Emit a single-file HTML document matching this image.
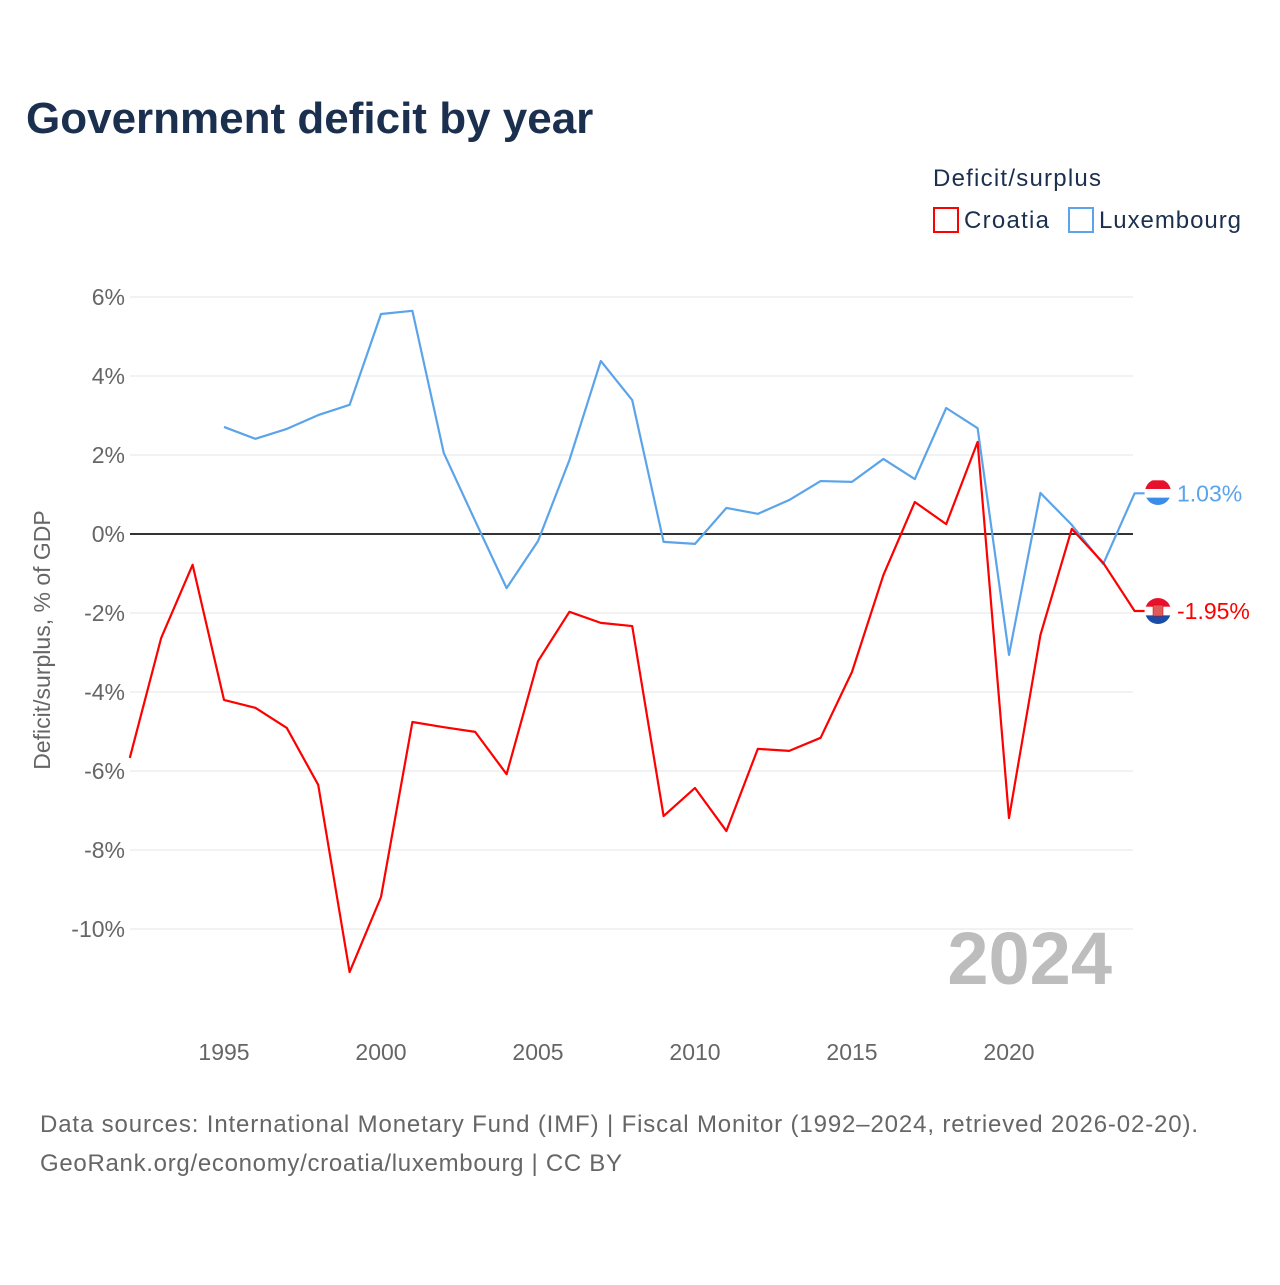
<!DOCTYPE html>
<html><head><meta charset="utf-8"><style>
body{margin:0;background:#fff;font-family:"Liberation Sans",sans-serif}
svg text{font-family:"Liberation Sans",sans-serif}
</style></head><body>
<svg id="chart" width="1280" height="1280" viewBox="0 0 1280 1280" xmlns="http://www.w3.org/2000/svg">
<defs>
<clipPath id="clipLux"><circle cx="1158" cy="492" r="13"/></clipPath>
<clipPath id="clipCro"><circle cx="1158" cy="611" r="13"/></clipPath>
</defs>
<rect width="1280" height="1280" fill="#fff"/>
<text x="26" y="133" font-size="44" font-weight="bold" fill="#1b2f4e">Government deficit by year</text>
<text x="933" y="186" font-size="24" fill="#1b2f4e" textLength="168">Deficit/surplus</text>
<g><rect x="934" y="208" width="24" height="24" fill="none" stroke="#f00" stroke-width="2"/><text x="964" y="228" font-size="24" fill="#1b2f4e" textLength="85">Croatia</text></g>
<g><rect x="1069" y="208" width="24" height="24" fill="none" stroke="#5ba4ea" stroke-width="2"/><text x="1099" y="228" font-size="24" fill="#1b2f4e" textLength="142">Luxembourg</text></g>
<g id="grid"></g><g id="yticks"></g><g id="xticks"></g>
<text transform="translate(50,640) rotate(-90)" text-anchor="middle" font-size="23" fill="#666">Deficit/surplus, % of GDP</text>
<text x="1112" y="984" text-anchor="end" font-size="74" font-weight="bold" fill="#bdbdbd">2024</text>
<g id="series"></g>
<text x="40" y="1132" font-size="24" fill="#666" textLength="1158">Data sources: International Monetary Fund (IMF) | Fiscal Monitor (1992–2024, retrieved 2026-02-20).</text>
<text x="40" y="1171" font-size="24" fill="#666" textLength="582">GeoRank.org/economy/croatia/luxembourg | CC BY</text>
</svg>
<script>
const croYears=[1992,1993,1994,1995,1996,1997,1998,1999,2000,2001,2002,2003,2004,2005,2006,2007,2008,2009,2010,2011,2012,2013,2014,2015,2016,2017,2018,2019,2020,2021,2022,2023,2024];
const croatia=[-5.67,-2.63,-0.78,-4.2,-4.4,-4.91,-6.35,-11.09,-9.19,-4.76,-4.89,-5.01,-6.08,-3.22,-1.97,-2.25,-2.33,-7.14,-6.43,-7.52,-5.44,-5.49,-5.16,-3.49,-1.04,0.81,0.25,2.33,-7.19,-2.56,0.13,-0.73,-1.95];
const luxYears=[1995,1996,1997,1998,1999,2000,2001,2002,2003,2004,2005,2006,2007,2008,2009,2010,2011,2012,2013,2014,2015,2016,2017,2018,2019,2020,2021,2022,2023,2024];
const luxembourg=[2.71,2.41,2.66,3.01,3.27,5.57,5.65,2.05,0.33,-1.37,-0.18,1.87,4.38,3.39,-0.2,-0.25,0.66,0.51,0.86,1.34,1.32,1.9,1.39,3.19,2.68,-3.06,1.04,0.23,-0.76,1.03];
const yTickVals=[6,4,2,0,-2,-4,-6,-8,-10];
const xTickVals=[1995,2000,2005,2010,2015,2020];
const NS="http://www.w3.org/2000/svg";
const x=yr=>224+(yr-1995)*31.4;
const y=v=>534-v*39.5;
function mk(t,a,p){const e=document.createElementNS(NS,t);for(const k in a)e.setAttribute(k,a[k]);p.appendChild(e);return e;}
const grid=document.getElementById('grid'),yt=document.getElementById('yticks'),xt=document.getElementById('xticks'),ser=document.getElementById('series');
yTickVals.forEach(v=>{
 const l=mk('line',{x1:130,x2:1133,y1:y(v),y2:y(v),stroke:v===0?'#333':'#e6e6e6','stroke-width':v===0?2:1},grid);
 
 
 const t=mk('text',{x:125,y:y(v)+8,'text-anchor':'end','font-size':23,fill:'#666'},yt);
 t.textContent=v+'%';
 
 
});
xTickVals.forEach(v=>{
 const t=mk('text',{x:x(v),y:1060,'text-anchor':'middle','font-size':23,fill:'#666'},xt);
 t.textContent=v;
 
 
});
function line(years,vals,color,name,labelText,stripes,clip){
 let d=years.map((yr,i)=>(i?'L':'M')+x(yr)+','+y(vals[i])).join(' ');
 const last=vals[vals.length-1];
 const ly=y(last);
 d+=' L'+(x(2024)+10)+','+ly;
 const p=mk('path',{d:d,fill:'none',stroke:color,'stroke-width':2.2,'stroke-linejoin':'round'},ser);
 
 
 const g=mk('g',{'clip-path':'url(#'+clip+')'},ser);
 
 
 stripes.forEach((c,i)=>mk('rect',{x:1144,y:ly-13+i*26/3,width:28,height:26/3+0.5,fill:c},g));
 const t=mk('text',{x:1177,y:ly+8,'font-size':23,fill:color},ser);
 t.textContent=labelText;
 
 
 return ly;
}
line(luxYears,luxembourg,'#5ba4ea','luxembourg',luxembourg[luxembourg.length-1].toFixed(2)+'%',['#e8112d','#fff','#3b8ee8'],'clipLux');
const cy=line(croYears,croatia,'#f00','croatia',croatia[croatia.length-1].toFixed(2)+'%',['#e8112d','#fff','#1a4ca8'],'clipCro');
mk('rect',{x:1153,y:cy-6,width:10,height:11,fill:'#e05a5a',stroke:'#c00','stroke-width':0.5},ser);
</script>
</body></html>
